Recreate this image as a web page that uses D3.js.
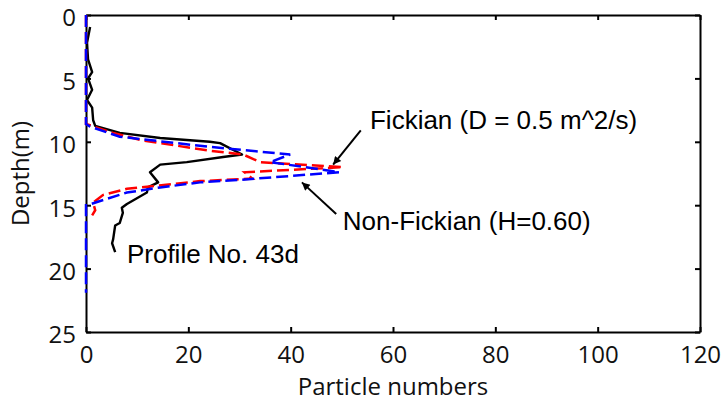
<!DOCTYPE html>
<meta charset="utf-8">
<style>
    body { margin: 0; background: #fff; }
    .tick text { font-family: "Open Sans", sans-serif; font-size: 24px; fill: #111; }
    .domain { stroke: #000; stroke-width: 2px; }
    .tick line { stroke: #000; stroke-width: 2px; }
    .note { font-family: "Liberation Sans", Arial, sans-serif; font-size: 26px; fill: #000; }
    .title { font-family: "Open Sans", sans-serif; font-size: 24px; fill: #111; }
</style>
<script src="https://d3js.org/d3.v7.min.js"></script>
<div id="chart"></div>
<script>

// measured profile (black)
var profileDepth = [0.95, 2.2, 3.5, 4.5, 5.0, 5.9, 6.7, 7.3, 8.3, 8.75, 9.3, 9.7, 10.0, 10.1, 11.0, 11.2, 11.6, 11.8, 12.4, 13.2, 13.6, 14.0, 14.9, 15.2, 15.6, 16.4, 16.6, 17.7, 18.0, 18.7];
var profileCount = [0.8, 0.2, 0.4, 1.2, 0.4, 1.2, 0.2, 1.2, 1.4, 1.8, 6.6, 14.5, 24.2, 26.2, 30.5, 26.8, 19.7, 14.5, 12.5, 14.1, 12.1, 11.9, 8.0, 7.0, 7.2, 6.6, 5.7, 5.3, 5.1, 5.7];

// Fickian model (red dashed)
var fickDepth = [0, 8.6, 8.7, 9.3, 9.9, 10.7, 11.0, 11.6, 12.0, 12.2, 12.4, 12.9, 13.1, 13.7, 14.2, 14.8, 15.4, 15.8];
var fickCount = [0, 0, 0.8, 5.3, 11.1, 24.2, 30.7, 34.0, 50.2, 40.5, 31.0, 32.5, 22.3, 8.0, 3.3, 1.4, 1.8, 1.2];

// Non-Fickian model (blue dashed)
var nonFickDepth = [0, 8.6, 8.8, 9.6, 10.4, 11.0, 11.6, 12.4, 13.0, 13.2, 13.6, 14.0, 15.0, 15.0, 21.9];
var nonFickCount = [0, 0, 0.8, 6.6, 24.2, 39.9, 36.0, 49.5, 30.1, 22.3, 14.5, 8.0, 0.2, 0, 0];

var xTicks = [0, 20, 40, 60, 80, 100, 120];
var yTicks = [0, 5, 10, 15, 20, 25];

var W = 725, H = 402;
var margin = {top: 15, right: 25, bottom: 70, left: 86};

var svg = d3.select("#chart")
    .append("svg")
    .attr("width", W)
    .attr("height", H);

var x = d3.scaleLinear()
    .domain([0, 120])
    .range([margin.left, W - margin.right]);

var y = d3.scaleLinear()
    .domain([0, 25])
    .range([margin.top, H - margin.bottom]);

// axes first (box style, inward ticks), the curves go on top
var bottom = H - margin.bottom, right = W - margin.right;

svg.append("g")
    .attr("transform", "translate(0," + bottom + ")")
    .call(d3.axisBottom(x).tickValues(xTicks).tickSizeInner(-5).tickSizeOuter(0).tickPadding(14));

svg.append("g")
    .attr("transform", "translate(0," + margin.top + ")")
    .call(d3.axisTop(x).tickValues(xTicks).tickSizeInner(-5).tickSizeOuter(0).tickFormat(""));

svg.append("g")
    .attr("transform", "translate(" + margin.left + ",0)")
    .call(d3.axisLeft(y).tickValues(yTicks).tickSizeInner(-5).tickSizeOuter(0).tickPadding(10))
    .selectAll("text").attr("dy", "0.45em");

svg.append("g")
    .attr("transform", "translate(" + right + ",0)")
    .call(d3.axisRight(y).tickValues(yTicks).tickSizeInner(-5).tickSizeOuter(0).tickFormat(""));

svg.append("text")
    .attr("class", "title")
    .attr("x", (margin.left + right) / 2)
    .attr("y", 395)
    .attr("text-anchor", "middle")
    .text("Particle numbers");

svg.append("text")
    .attr("class", "title")
    .attr("transform", "translate(29," + (margin.top + bottom) / 2 + ") rotate(-90)")
    .attr("text-anchor", "middle")
    .text("Depth(m)");

function zip(ds, cs) {
    return ds.map(function(d, i) { return {depth: d, count: cs[i]}; });
}

var line = d3.line()
    .x(function(d) { return x(d.count); })
    .y(function(d) { return y(d.depth); });

svg.append("path")
    .datum(zip(profileDepth, profileCount))
    .attr("fill", "none")
    .attr("stroke", "#000")
    .attr("stroke-width", 2.4)
    .attr("stroke-linejoin", "round")
    .attr("d", line);

svg.append("path")
    .datum(zip(fickDepth, fickCount))
    .attr("fill", "none")
    .attr("stroke", "#ff0000")
    .attr("stroke-width", 2.5)
    .attr("stroke-dasharray", "12,5")
    .attr("d", line);

svg.append("path")
    .datum(zip(nonFickDepth, nonFickCount))
    .attr("fill", "none")
    .attr("stroke", "#0000ff")
    .attr("stroke-width", 2.5)
    .attr("stroke-dasharray", "12,5")
    .attr("d", line);

// annotations
svg.append("defs").append("marker")
    .attr("id", "head")
    .attr("viewBox", "0 0 10 10")
    .attr("refX", 10)
    .attr("refY", 5)
    .attr("markerWidth", 13)
    .attr("markerHeight", 8)
    .attr("markerUnits", "userSpaceOnUse")
    .attr("orient", "auto")
    .append("path")
    .attr("d", "M0,0L10,5L0,10z")
    .attr("fill", "#000");

var notes = [
    {text: "Fickian (D = 0.5 m^2/s)", tx: 55.5, ty: 9.0, from: [53.7, 9.1], to: [48.3, 11.8]},
    {text: "Non-Fickian (H=0.60)", tx: 50.2, ty: 16.96, from: [48.9, 15.7], to: [42.2, 13.2]},
    {text: "Profile No. 43d", tx: 8.0, ty: 19.55}
];

notes.forEach(function(n) {
    svg.append("text")
        .attr("class", "note")
        .attr("x", x(n.tx))
        .attr("y", y(n.ty))
        .text(n.text);
    if (n.from) {
        svg.append("line")
            .attr("x1", x(n.from[0]))
            .attr("y1", y(n.from[1]))
            .attr("x2", x(n.to[0]))
            .attr("y2", y(n.to[1]))
            .attr("stroke", "#000")
            .attr("stroke-width", 2)
            .attr("marker-end", "url(#head)");
    }
});

</script>
